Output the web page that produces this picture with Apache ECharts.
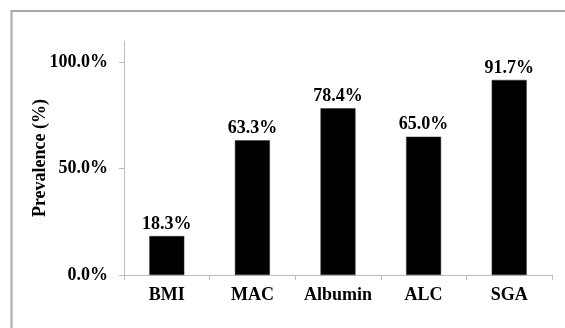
<!DOCTYPE html>
<html>
<head>
<meta charset="utf-8">
<script src="https://cdn.jsdelivr.net/npm/echarts@6/dist/echarts.min.js"></script>
<style>
  html, body { margin: 0; padding: 0; background: #ffffff; }
  #chart { width: 565px; height: 328px; }
</style>
</head>
<body>
<div id="chart"></div>
<script>
// Prevalence of each nutritional indicator
const categories = ['BMI', 'MAC', 'Albumin', 'ALC', 'SGA'];
const prevalence = [18.3, 63.3, 78.4, 65.0, 91.7];
const yTicks = [0, 50, 100];

const serif = '"Liberation Serif", "Times New Roman", serif';
const axisGray = '#bdbdbd';
const fontSize = 18;

const chart = echarts.init(document.getElementById('chart'), null, { renderer: 'canvas' });

chart.setOption({
  backgroundColor: '#ffffff',
  animation: false,
  graphic: [{
    type: 'rect',
    silent: true,
    shape: { x: 11.5, y: 11, width: 700, height: 500 },
    style: { fill: 'none', stroke: '#a8a8a8', lineWidth: 2 }
  }],
  grid: { left: 124, right: 13, top: 41, bottom: 53, containLabel: false },
  xAxis: {
    type: 'category',
    data: categories,
    axisLine: { lineStyle: { color: axisGray, width: 1 } },
    axisTick: { show: true, length: 5, alignWithLabel: false, lineStyle: { color: axisGray } },
    axisLabel: {
      interval: 0,
      hideOverlap: false,
      margin: 11,
      color: '#000',
      fontFamily: serif,
      fontWeight: 'bold',
      fontSize: fontSize
    }
  },
  yAxis: {
    type: 'value',
    min: 0,
    max: 110,
    interval: 50,
    name: 'Prevalence (%)',
    nameLocation: 'middle',
    nameGap: 75,
    nameMoveOverlap: false,
    nameRotate: 90,
    nameTextStyle: {
      color: '#000',
      fontFamily: serif,
      fontWeight: 'bold',
      fontSize: fontSize
    },
    splitLine: { show: false },
    axisLine: { show: true, lineStyle: { color: axisGray, width: 1 } },
    axisTick: { show: true, length: 5, customValues: yTicks, lineStyle: { color: axisGray } },
    axisLabel: {
      customValues: yTicks,
      margin: 16,
      color: '#000',
      fontFamily: serif,
      fontWeight: 'bold',
      fontSize: fontSize,
      formatter: v => v.toFixed(1) + '%'
    }
  },
  series: [{
    type: 'bar',
    data: prevalence,
    barWidth: 35,
    itemStyle: { color: '#000000', borderColor: '#333', borderWidth: 0.5 },
    label: {
      show: true,
      position: 'top',
      distance: 3,
      color: '#000',
      fontFamily: serif,
      fontWeight: 'bold',
      fontSize: fontSize,
      formatter: p => p.value.toFixed(1) + '%'
    }
  }]
});
</script>
</body>
</html>
